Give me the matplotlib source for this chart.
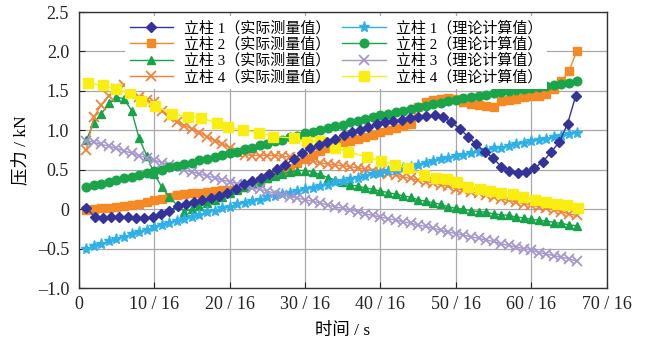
import numpy as np
import matplotlib
matplotlib.use("Agg")
import matplotlib.pyplot as plt

plt.rcParams['font.family'] = ['Liberation Serif', 'Noto Sans CJK SC', 'DejaVu Sans']
plt.rcParams['axes.unicode_minus'] = False

# ---------------- measured values (kN) ----------------
t_m1 = np.arange(1.0, 66.5, 1.1)
p_m1 = [0.02, -0.10, -0.11, -0.10, -0.10, -0.10, -0.11, -0.11, -0.10, -0.06,
        -0.02, 0.04, 0.07, 0.09, 0.12, 0.14, 0.17, 0.21, 0.26, 0.32,
        0.36, 0.39, 0.45, 0.51, 0.56, 0.64, 0.71, 0.77, 0.81, 0.85,
        0.89, 0.94, 0.98, 1.01, 1.04, 1.08, 1.10, 1.12, 1.13, 1.15,
        1.17, 1.18, 1.19, 1.17, 1.10, 1.02, 0.92, 0.82, 0.73, 0.65,
        0.54, 0.49, 0.46, 0.47, 0.52, 0.60, 0.72, 0.85, 1.08, 1.44]

t_m = np.arange(1, 67)
p_m2 = [-0.01, 0.00, 0.01, 0.02, 0.03, 0.04, 0.05, 0.07, 0.09, 0.11,
        0.13, 0.16, 0.18, 0.19, 0.20, 0.21, 0.22, 0.23, 0.24, 0.24,
        0.26, 0.28, 0.32, 0.36, 0.40, 0.44, 0.48, 0.52, 0.58, 0.64,
        0.69, 0.74, 0.78, 0.82, 0.85, 0.87, 0.89, 0.91, 0.94, 0.98,
        1.01, 1.03, 1.05, 1.08, 1.30, 1.36, 1.38, 1.40, 1.41, 1.40,
        1.36, 1.33, 1.32, 1.31, 1.30, 1.37, 1.39, 1.40, 1.42, 1.43,
        1.44, 1.46, 1.52, 1.62, 1.75, 2.00]
p_m3 = [0.88, 1.09, 1.21, 1.34, 1.42, 1.40, 1.25, 0.90, 0.68, 0.45,
        0.28, 0.16, 0.05, -0.03, 0.00, 0.04, 0.08, 0.12, 0.16, 0.20,
        0.24, 0.28, 0.32, 0.35, 0.39, 0.42, 0.45, 0.47, 0.49, 0.49,
        0.47, 0.44, 0.40, 0.37, 0.34, 0.31, 0.29, 0.27, 0.25, 0.23,
        0.21, 0.19, 0.17, 0.15, 0.12, 0.10, 0.08, 0.06, 0.03, 0.01,
        0.00, -0.02, -0.03, -0.04, -0.06, -0.07, -0.08, -0.10, -0.11, -0.13,
        -0.14, -0.15, -0.17, -0.18, -0.20, -0.21]
p_m4 = [0.75, 1.17, 1.32, 1.44, 1.52, 1.57, 1.50, 1.42, 1.38, 1.36,
        1.25, 1.17, 1.11, 1.06, 1.02, 0.97, 0.92, 0.87, 0.83, 0.78,
        0.73, 0.69, 0.68, 0.68, 0.68, 0.68, 0.67, 0.66, 0.65, 0.63,
        0.61, 0.59, 0.57, 0.56, 0.55, 0.54, 0.52, 0.51, 0.49, 0.47,
        0.45, 0.43, 0.41, 0.39, 0.37, 0.35, 0.33, 0.31, 0.29, 0.26,
        0.24, 0.22, 0.20, 0.18, 0.15, 0.13, 0.11, 0.09, 0.07, 0.05,
        0.03, 0.01, -0.01, -0.03, -0.06, -0.08]

# ---------------- theoretical values (kN) ----------------
p_t1 = [-0.50, -0.47, -0.44, -0.41, -0.38, -0.35, -0.32, -0.29, -0.26, -0.23,
        -0.20, -0.17, -0.15, -0.12, -0.10, -0.07, -0.04, -0.02, 0.01, 0.03,
        0.06, 0.08, 0.10, 0.12, 0.15, 0.17, 0.19, 0.21, 0.23, 0.25,
        0.27, 0.29, 0.31, 0.34, 0.36, 0.38, 0.40, 0.42, 0.44, 0.46,
        0.48, 0.50, 0.52, 0.54, 0.56, 0.58, 0.61, 0.63, 0.65, 0.67,
        0.69, 0.71, 0.73, 0.75, 0.77, 0.78, 0.80, 0.82, 0.84, 0.86,
        0.88, 0.89, 0.91, 0.93, 0.95, 0.97]
p_t2 = [0.28, 0.30, 0.32, 0.35, 0.37, 0.39, 0.41, 0.43, 0.46, 0.48,
        0.50, 0.53, 0.55, 0.57, 0.59, 0.62, 0.64, 0.66, 0.69, 0.71,
        0.73, 0.76, 0.78, 0.81, 0.83, 0.86, 0.88, 0.91, 0.93, 0.96,
        0.98, 1.00, 1.03, 1.05, 1.07, 1.10, 1.12, 1.14, 1.17, 1.19,
        1.21, 1.23, 1.25, 1.27, 1.29, 1.31, 1.33, 1.35, 1.37, 1.39,
        1.41, 1.42, 1.44, 1.45, 1.47, 1.48, 1.50, 1.51, 1.52, 1.54,
        1.55, 1.56, 1.58, 1.59, 1.60, 1.62]
p_t3 = [0.87, 0.85, 0.82, 0.80, 0.77, 0.74, 0.71, 0.68, 0.65, 0.62,
        0.59, 0.56, 0.53, 0.50, 0.47, 0.45, 0.42, 0.40, 0.37, 0.35,
        0.32, 0.30, 0.27, 0.25, 0.23, 0.20, 0.18, 0.16, 0.14, 0.12,
        0.10, 0.08, 0.05, 0.03, 0.01, -0.01, -0.03, -0.06, -0.08, -0.10,
        -0.12, -0.14, -0.16, -0.18, -0.20, -0.22, -0.24, -0.27, -0.29, -0.31,
        -0.33, -0.35, -0.37, -0.39, -0.41, -0.44, -0.46, -0.48, -0.50, -0.52,
        -0.55, -0.57, -0.59, -0.61, -0.63, -0.66]
t_t4 = [1.2, 3.2, 5.0, 6.8, 8.3, 10.1, 12.3, 14.5, 16.2, 18.3,
        19.8, 21.8, 23.9, 25.8, 28.6, 30.2, 32.0, 34.0, 35.7, 38.2,
        40.1, 41.9, 43.7, 45.8, 47.3, 48.8, 50.1, 51.6, 53.2, 54.5,
        56.0, 57.6, 58.9, 60.5, 62.0, 63.4, 64.7, 66.2]
p_t4 = [1.60, 1.57, 1.52, 1.47, 1.37, 1.31, 1.21, 1.17, 1.16, 1.09,
        1.04, 1.00, 0.97, 0.92, 0.90, 0.85, 0.87, 0.77, 0.73, 0.66,
        0.61, 0.56, 0.52, 0.43, 0.40, 0.38, 0.35, 0.28, 0.25, 0.23,
        0.21, 0.19, 0.16, 0.12, 0.09, 0.07, 0.05, 0.01]

x_ticks = [0, 10, 20, 30, 40, 50, 60, 70]
x_labels = ['0', '10 / 16', '20 / 16', '30 / 16', '40 / 16', '50 / 16', '60 / 16', '70 / 16']
y_ticks = [-1.0, -0.5, 0, 0.5, 1.0, 1.5, 2.0, 2.5]
y_labels = ['\u20131.0', '\u20130.5', '0', '0.5', '1.0', '1.5', '2.0', '2.5']

names = ['立柱 1（实际测量值）', '立柱 2（实际测量值）', '立柱 3（实际测量值）', '立柱 4（实际测量值）',
         '立柱 1（理论计算值）', '立柱 2（理论计算值）', '立柱 3（理论计算值）', '立柱 4（理论计算值）']

fig = plt.figure(figsize=(6.51, 3.48), dpi=100)
ax = fig.add_axes([0.121, 0.1724, 0.811, 0.7931])

lw = 1.0
ax.plot(t_m1, p_m1, color='#34339a', marker='D', ms=5.4, lw=lw, label=names[0], zorder=5)
ax.plot(t_m, p_m2, color='#f58a25', marker='s', ms=6.0, lw=lw, label=names[1], zorder=3)
ax.plot(t_m, p_m3, color='#16a34a', marker='^', ms=6.2, lw=lw, label=names[2], zorder=3)
ax.plot(t_m, p_m4, color='#f0823a', marker='x', ms=7.2, mew=1.3, lw=lw, label=names[3], zorder=3)
ax.plot(t_m, p_t1, color='#2fb0e8', marker='*', ms=8.0, lw=lw, label=names[4], zorder=3)
ax.plot(t_m, p_t2, color='#1aa54b', marker='o', ms=6.2, lw=lw, label=names[5], zorder=4)
ax.plot(t_m, p_t3, color='#a596cc', marker='x', ms=7.2, mew=1.3, lw=lw, label=names[6], zorder=3)
ax.plot(t_t4, p_t4, color='#f9ee10', marker='s', ms=7.2, lw=lw, label=names[7], zorder=4)

ax.set_xlim(0, 70)
ax.set_ylim(-1.0, 2.5)
ax.set_xticks(x_ticks)
ax.set_xticklabels(x_labels)
ax.set_yticks(y_ticks)
ax.set_yticklabels(y_labels)
ax.tick_params(direction='in', length=4, width=0.8, labelsize=13, colors='#222222')
ax.tick_params(axis='y', pad=7)
ax.tick_params(axis='x', pad=6)
ax.grid(True, color='#a8a8a8', lw=0.9)
ax.set_axisbelow(True)
for s in ax.spines.values():
    s.set_color('#333333')
    s.set_linewidth(1.0)

ax.set_ylabel('压力 / kN', fontsize=12.5)
ax.set_xlabel('时间 / s', fontsize=12.5)
ax.yaxis.set_label_coords(-0.093, 0.5)
ax.xaxis.set_label_coords(0.5, -0.125)

leg = ax.legend(loc='upper left', bbox_to_anchor=(0.085, 0.99), ncol=2, fontsize=10.8,
                frameon=True, fancybox=False, framealpha=1.0, borderpad=0.3,
                handlelength=2.9, handletextpad=0.7, columnspacing=0.8,
                labelspacing=0.12, borderaxespad=0.1)
leg.get_frame().set_edgecolor('none')
leg.set_zorder(10)

fig.savefig('out.png', dpi=100)
